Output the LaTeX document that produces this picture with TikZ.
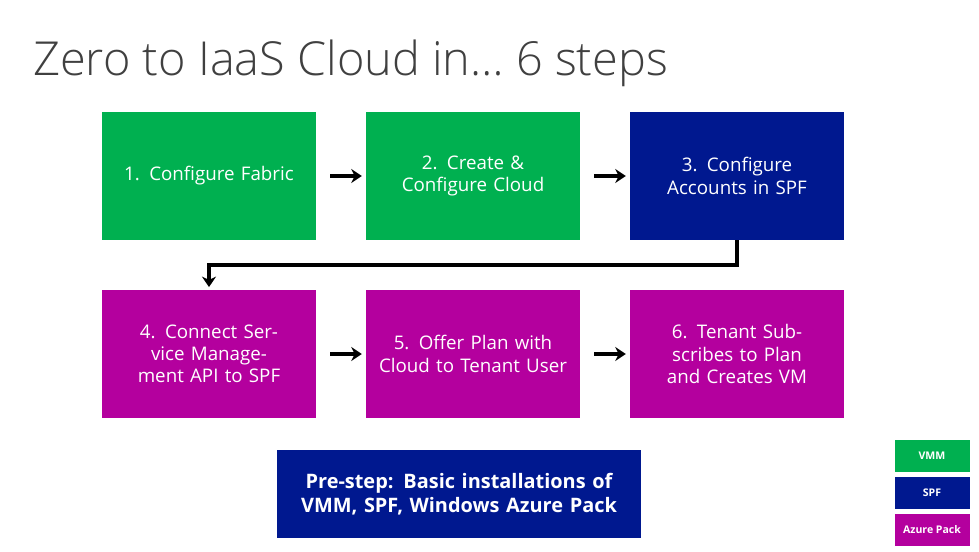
\documentclass[tikz,border=0pt]{standalone}
\usepackage{fontspec}
\setmainfont{Open Sans}
\newfontfamily\lightf{Open Sans Light}
\usetikzlibrary{arrows.meta}
\definecolor{vgreen}{HTML}{00B050}
\definecolor{vnavy}{HTML}{00188F}
\definecolor{vmag}{HTML}{B4009E}
\begin{document}
\begin{tikzpicture}[x=0.03cm,y=-0.03cm,
 box/.style={minimum width=214*0.03cm,minimum height=128*0.03cm,text width=200*0.03cm,align=center,inner sep=0pt,font=\fontsize{16}{19}\selectfont,text=white},
 leg/.style={minimum width=75*0.03cm,minimum height=32*0.03cm,inner sep=0pt,font=\fontsize{9}{11}\selectfont\bfseries,text=white},
 arr/.style={line width=3pt,-{Stealth[length=9pt,width=12pt]}}]
\useasboundingbox (0,0) rectangle (979,551);
\node[anchor=base west,text=black!75,font=\fontsize{40}{44}\selectfont\lightf,inner sep=0pt] (t) at (33,75) {Zero to IaaS Cloud in… 6 steps};
\node[box,fill=vgreen] (b1) at (209,176) {1. Configure Fabric};
\node[box,fill=vgreen] (b2) at (473,176) {2. Create \&\\Configure Cloud};
\node[box,fill=vnavy] (b3) at (737,176) {3. Configure\\Accounts in SPF};
\node[box,fill=vmag] (b4) at (209,354) {4. Connect Service Management API to SPF};
\node[box,fill=vmag] (b5) at (473,354) {5. Offer Plan with Cloud to Tenant User};
\node[box,fill=vmag] (b6) at (737,354) {6. Tenant Subscribes to Plan and Creates VM};
\draw[arr] (b1.east)++(14,0) -- ([xshift=-0.12cm]b2.west);
\draw[arr] (b2.east)++(14,0) -- ([xshift=-0.12cm]b3.west);
\draw[arr] (b4.east)++(14,0) -- ([xshift=-0.12cm]b5.west);
\draw[arr] (b5.east)++(14,0) -- ([xshift=-0.12cm]b6.west);
\draw[arr] (b3.south) -- ++(0,25) -| ([yshift=0.08cm]b4.north);
\node[fill=vnavy,minimum width=364*0.03cm,minimum height=88*0.03cm,text width=350*0.03cm,align=center,text=white,font=\fontsize{17}{21}\selectfont\bfseries,inner sep=0pt] (pre) at (459,494) {Pre-step: Basic installations of VMM, SPF, Windows Azure Pack};
\node[leg,fill=vgreen] (l1) at (932,456) {VMM};
\node[leg,fill=vnavy] (l2) at (932,493) {SPF};
\node[leg,fill=vmag] (l3) at (932,530) {Azure Pack};
\end{tikzpicture}
\end{document}
